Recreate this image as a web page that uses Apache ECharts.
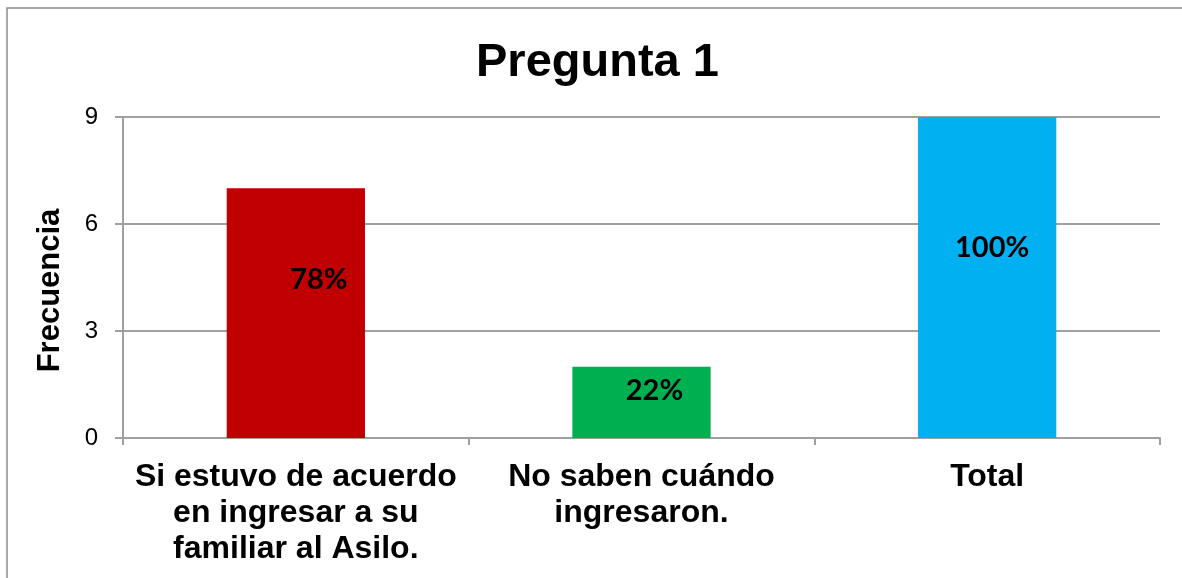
<!DOCTYPE html>
<html><head><meta charset="utf-8">
<script src="https://cdn.jsdelivr.net/npm/echarts@6/dist/echarts.min.js"></script>
<style>html,body{margin:0;padding:0;background:#fff}#c{width:1182px;height:578px}</style>
</head><body><div id="c"></div>
<script>
const categories = ["Si estuvo de acuerdo\nen ingresar a su\nfamiliar al Asilo.", "No saben cuándo\ningresaron.", "Total"];
const values = [7, 2, 9];
const percentLabels = ["78%", "22%", "100%"];
const barColors = ["#C00000", "#00B050", "#00B0F0"];
const yTicks = [0, 3, 6, 9];
const labelOffsets = [[23, -34], [13, -12], [5, -30]];

const chart = echarts.init(document.getElementById('c'));
chart.setOption({
  animation: false,
  title: {
    text: 'Pregunta 1', left: 471, top: 35,
    textStyle: {fontFamily: 'Liberation Sans', fontWeight: 'bold', fontSize: 47, color: '#000'}
  },
  graphic: [{
    type: 'rect', shape: {x: 7, y: 8, width: 1300, height: 700},
    style: {fill: 'none', stroke: '#8c8c8c', lineWidth: 1.5}, silent: true
  }],
  grid: {left: 123, right: 22, top: 117, bottom: 140},
  xAxis: {
    type: 'category', data: categories,
    axisLine: {lineStyle: {color: '#a0a0a0', width: 2}},
    axisTick: {show: true, length: 7, lineStyle: {color: '#a0a0a0', width: 2}},
    axisLabel: {
      interval: 0, margin: 21, lineHeight: 36,
      fontFamily: 'Liberation Sans', fontWeight: 'bold', fontSize: 32, color: '#000'
    }
  },
  yAxis: {
    type: 'value', min: yTicks[0], max: yTicks[yTicks.length - 1], interval: 3,
    name: 'Frecuencia', nameLocation: 'middle', nameGap: 57,
    nameTextStyle: {fontFamily: 'Liberation Sans', fontWeight: 'bold', fontSize: 31, color: '#000', padding: [0, 0, 0, -26]},
    axisLine: {show: true, lineStyle: {color: '#a0a0a0', width: 2}},
    axisTick: {show: true, length: 8, lineStyle: {color: '#a0a0a0', width: 2}},
    splitLine: {lineStyle: {color: '#a0a0a0', width: 2}},
    axisLabel: {margin: 25, fontFamily: 'Liberation Sans', fontSize: 24, color: '#000'}
  },
  series: [{
    type: 'bar', barCategoryGap: '60%',
    data: values.map((v, i) => ({
      value: v,
      itemStyle: {color: barColors[i]},
      label: {
        show: true, position: 'inside', offset: labelOffsets[i],
        formatter: percentLabels[i],
        fontFamily: 'Lato', fontWeight: 'bold', fontSize: 29, color: '#000'
      }
    }))
  }]
});
</script></body></html>
